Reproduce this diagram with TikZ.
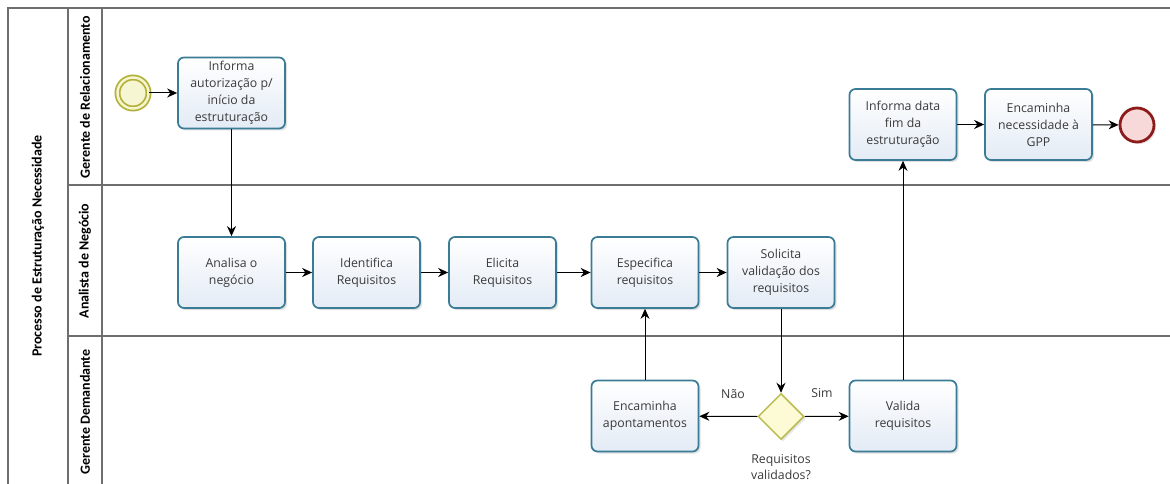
\documentclass[tikz,border=0pt]{standalone}
\usepackage{fontspec}
\setmainfont{Open Sans}
\newfontfamily\lanefont{Carlito}
\usetikzlibrary{shapes.geometric,arrows.meta,shadows}
\definecolor{taskborder}{HTML}{3A7C96}
\definecolor{taskfill}{HTML}{E3EBF5}
\definecolor{poolline}{HTML}{6E6E6E}
\definecolor{gwborder}{HTML}{B9BC4E}
\definecolor{gwfill}{HTML}{FCFBD6}
\definecolor{startborder}{HTML}{B3B23A}
\definecolor{startfill}{HTML}{F7F6D2}
\definecolor{endborder}{HTML}{8E1B1B}
\definecolor{endfill}{HTML}{F7D9D9}
\definecolor{txt}{HTML}{3A3A3A}
\begin{document}
\begin{tikzpicture}[x=1pt,y=-1pt,
  task/.style={draw=taskborder, line width=1.7pt, rounded corners=6pt,
    top color=white, bottom color=taskfill, minimum width=107pt, minimum height=71pt,
    align=center, font=\fontsize{12.3}{17}\selectfont, text=txt, inner sep=2pt,
    drop shadow={opacity=0.25, shadow xshift=2pt, shadow yshift=-2pt}},
  gateway/.style={diamond, draw=gwborder, line width=1.5pt, fill=gwfill,
    minimum width=46pt, minimum height=46pt, inner sep=0pt,
    drop shadow={opacity=0.2, shadow xshift=2pt, shadow yshift=-2pt}},
  startev/.style={circle, draw=startborder, line width=1.8pt, double=startfill, double distance=2.4pt,
    fill=startfill, minimum size=31pt, inner sep=0pt,
    drop shadow={opacity=0.2, shadow xshift=2pt, shadow yshift=-2pt}},
  endev/.style={circle, draw=endborder, line width=2.8pt, fill=endfill, minimum size=34pt, inner sep=0pt,
    drop shadow={opacity=0.2, shadow xshift=2pt, shadow yshift=-2pt}},
  flow/.style={line width=1pt, -{Stealth[length=10pt,width=9pt]}},
  lanelabel/.style={rotate=90, font=\lanefont\bfseries\fontsize{14}{16}\selectfont, text=black},
  lbl/.style={font=\fontsize{12.3}{16}\selectfont, text=txt, align=center},
  pool/.style={draw=poolline, line width=1.3pt}
]
\useasboundingbox (0,0) rectangle (1170,484);
\fill[white] (0,0) rectangle (1170,484);
% pool and lanes
\draw[pool, line width=1.8pt] (8,484) -- (8,8) -- (1170,8);
\draw[pool] (68,8) -- (68,484);
\draw[pool] (102,8) -- (102,484);
\draw[pool] (68,185) -- (1170,185);
\draw[pool] (68,336) -- (1170,336);
\node[lanelabel] (title) at (38,246) {Processo de Estruturação Necessidade};
\node[lanelabel] (lane1) at (85,97) {Gerente de Relacionamento};
\node[lanelabel] (lane2) at (85,261) {Analista de Negócio};
\node[lanelabel] (lane3) at (85,412) {Gerente Demandante};
% events and tasks
\node[startev] (start) at (133,93) {};
\node[task] (t1) at (231.5,93) {Informa\\autorização p/\\início da\\estruturação};
\node[task] (a1) at (231.5,272.5) {Analisa o\\negócio};
\node[task] (a2) at (366.5,272.5) {Identifica\\Requisitos};
\node[task] (a3) at (502.5,272.5) {Elicita\\Requisitos};
\node[task] (a4) at (645,272.5) {Especifica\\requisitos};
\node[task] (a5) at (781,272.5) {Solicita\\validação dos\\requisitos};
\node[gateway] (g) at (781,416.5) {};
\node[task] (d1) at (645,416) {Encaminha\\apontamentos};
\node[task] (d2) at (903,416) {Valida\\requisitos};
\node[task] (r2) at (903,124.5) {Informa data\\fim da\\estruturação};
\node[task] (r3) at (1038.5,124.5) {Encaminha\\necessidade à\\GPP};
\node[endev] (end) at (1137,125) {};
\node[lbl, anchor=north] (gl) at (781,451) {Requisitos\\validados?};
\node[lbl] (nao) at (733,394) {Não};
\node[lbl] (sim) at (822,393) {Sim};
% flows
\draw[flow] (start) -- (t1);
\draw[flow] (t1) -- (a1);
\draw[flow] (a1) -- (a2);
\draw[flow] (a2) -- (a3);
\draw[flow] (a3) -- (a4);
\draw[flow] (a4) -- (a5);
\draw[flow] (a5) -- (g.north);
\draw[flow] (g.west) -- (d1);
\draw[flow] (g.east) -- (d2);
\draw[flow] (d1) -- (a4);
\draw[flow] (d2) -- (r2);
\draw[flow] (r2) -- (r3);
\draw[flow] (r3) -- (end);
\end{tikzpicture}
\end{document}
